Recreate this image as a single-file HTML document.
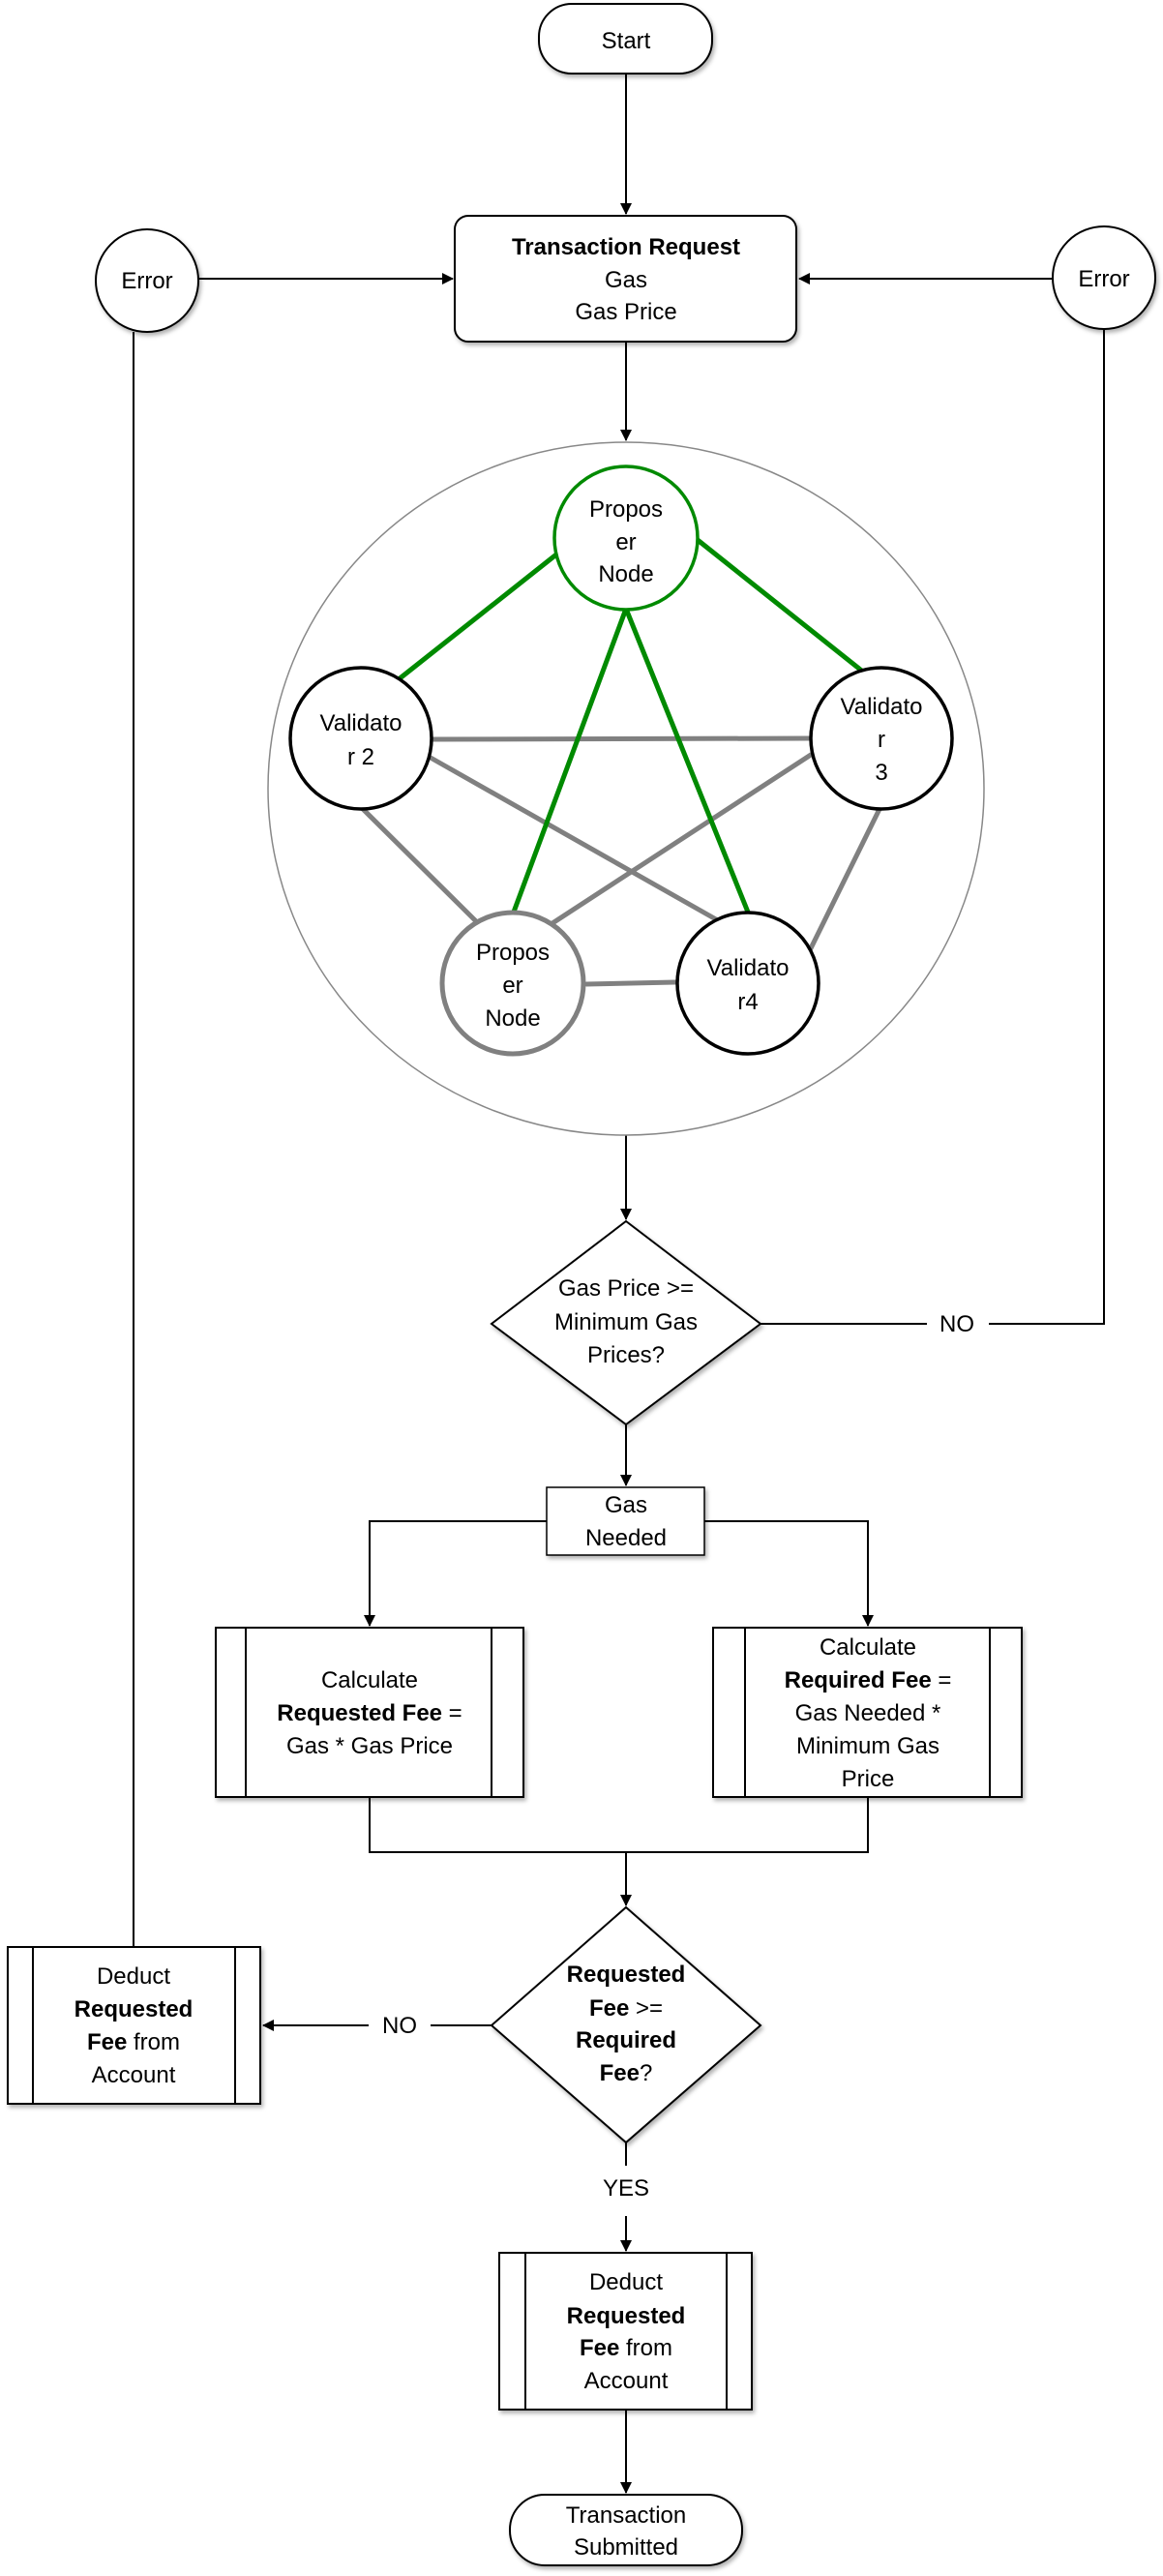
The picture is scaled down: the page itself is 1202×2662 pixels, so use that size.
<!DOCTYPE html>
<html><head><meta charset="utf-8"><style>
html,body{margin:0;padding:0;background:#fff;}
svg{display:block;}
text{font-family:"Liberation Sans",sans-serif;fill:#000;text-anchor:middle;}
</style></head><body>
<svg width="1202" height="2662" viewBox="0 0 1202 2662" xmlns="http://www.w3.org/2000/svg">
<defs>
<marker id="a" markerWidth="12" markerHeight="12" refX="11" refY="6" orient="auto" markerUnits="userSpaceOnUse"><path d="M0,0 L12,6 L0,12 z" fill="#000"/></marker>
<filter id="sh" x="-10%" y="-10%" width="130%" height="130%"><feDropShadow dx="2" dy="3" stdDeviation="2" flood-color="#000" flood-opacity="0.3"/></filter>
</defs>
<g stroke="#000" stroke-width="2" fill="none">
<line x1="647" y1="76" x2="647" y2="221" marker-end="url(#a)"/>
<line x1="205" y1="288" x2="468" y2="288" marker-end="url(#a)"/>
<line x1="1088" y1="288" x2="826" y2="288" marker-end="url(#a)"/>
<line x1="647" y1="353" x2="647" y2="455" marker-end="url(#a)"/>
<line x1="647" y1="1173" x2="647" y2="1260" marker-end="url(#a)"/>
<polyline points="786,1368 958,1368"/>
<polyline points="1022,1368 1141,1368 1141,341"/>
<line x1="138" y1="343" x2="138" y2="2012"/>
<line x1="647" y1="1472" x2="647" y2="1535" marker-end="url(#a)"/>
<polyline points="565,1572 382,1572 382,1680" marker-end="url(#a)"/>
<polyline points="728,1572 897,1572 897,1680" marker-end="url(#a)"/>
<polyline points="382,1857 382,1914 897,1914 897,1857"/>
<line x1="647" y1="1914" x2="647" y2="1969" marker-end="url(#a)"/>
<line x1="508" y1="2093" x2="445" y2="2093"/>
<line x1="381" y1="2093" x2="272" y2="2093" marker-end="url(#a)"/>
<line x1="647" y1="2214" x2="647" y2="2238"/>
<line x1="647" y1="2290" x2="647" y2="2326" marker-end="url(#a)"/>
<line x1="647" y1="2490" x2="647" y2="2576" marker-end="url(#a)"/>
</g>
<g stroke="#000" stroke-width="2" fill="#fff" filter="url(#sh)">
<rect x="557" y="4" width="179" height="72" rx="34"/>
<rect x="470" y="223" width="353" height="130" rx="14"/>
<circle cx="152" cy="290" r="53"/>
<circle cx="1141" cy="287" r="53"/>
<polygon points="647,1262 786,1368 647,1472 508,1368"/>
<rect x="565" y="1537" width="163" height="70" stroke-width="1.5"/>
<rect x="223" y="1682" width="318" height="175"/>
<rect x="737" y="1682" width="319" height="175"/>
<polygon points="647,1971 786,2093 647,2214 508,2093"/>
<rect x="8" y="2012" width="261" height="162"/>
<rect x="516" y="2328" width="261" height="162"/>
<rect x="527" y="2578" width="240" height="73" rx="36"/>
</g>
<g stroke="#000" stroke-width="2">
<line x1="254" y1="1682" x2="254" y2="1857"/><line x1="508" y1="1682" x2="508" y2="1857"/>
<line x1="770" y1="1682" x2="770" y2="1857"/><line x1="1023" y1="1682" x2="1023" y2="1857"/>
<line x1="34" y1="2012" x2="34" y2="2174"/><line x1="243" y1="2012" x2="243" y2="2174"/>
<line x1="543" y1="2328" x2="543" y2="2490"/><line x1="751" y1="2328" x2="751" y2="2490"/>
</g>
<ellipse cx="647" cy="815" rx="370" ry="358" fill="#fff" stroke="#888" stroke-width="1.5"/>
<g stroke="#808080" stroke-width="5" stroke-linecap="round">
<line x1="446" y1="764" x2="836" y2="763"/>
<line x1="445" y1="783" x2="747" y2="954"/>
<line x1="838" y1="780" x2="571" y2="954"/>
<line x1="373" y1="834" x2="493" y2="953"/>
<line x1="910" y1="834" x2="838" y2="980"/>
<line x1="606" y1="1017" x2="698" y2="1015"/>
</g>
<g stroke="#008a00" stroke-width="5" stroke-linecap="round">
<line x1="575" y1="573" x2="412" y2="702"/>
<line x1="721" y1="558" x2="893" y2="695"/>
<line x1="647" y1="629" x2="530" y2="945"/>
<line x1="647" y1="629" x2="774" y2="945"/>
</g>
<g fill="#fff" stroke-width="3.5">
<circle cx="647" cy="556" r="74" stroke="#008a00"/>
<circle cx="373" cy="763" r="73" stroke="#000"/>
<circle cx="911" cy="763" r="73" stroke="#000"/>
<circle cx="530" cy="1016" r="73" stroke="#808080" stroke-width="5"/>
<circle cx="773" cy="1016" r="73" stroke="#000"/>
</g>
<g font-size="24">
<text x="647" y="534">Propos</text><text x="647" y="568">er</text><text x="647" y="601">Node</text>
<text x="373" y="755">Validato</text><text x="373" y="790">r 2</text>
<text x="911" y="738">Validato</text><text x="911" y="772">r</text><text x="911" y="806">3</text>
<text x="530" y="992">Propos</text><text x="530" y="1026">er</text><text x="530" y="1060">Node</text>
<text x="773" y="1008">Validato</text><text x="773" y="1043">r4</text>
<text x="647" y="50">Start</text>
<text x="647" y="263" font-weight="bold">Transaction Request</text>
<text x="647" y="297">Gas</text>
<text x="647" y="330">Gas Price</text>
<text x="152" y="298">Error</text>
<text x="1141" y="296">Error</text>
<text x="647" y="1339">Gas Price &gt;=</text>
<text x="647" y="1374">Minimum Gas</text>
<text x="647" y="1408">Prices?</text>
<text x="989" y="1376">NO</text>
<text x="647" y="1563">Gas</text>
<text x="647" y="1597">Needed</text>
<text x="382" y="1744">Calculate</text>
<text x="382" y="1778"><tspan font-weight="bold">Requested Fee</tspan> =</text>
<text x="382" y="1812">Gas * Gas Price</text>
<text x="897" y="1710">Calculate</text>
<text x="897" y="1744"><tspan font-weight="bold">Required Fee</tspan> =</text>
<text x="897" y="1778">Gas Needed *</text>
<text x="897" y="1812">Minimum Gas</text>
<text x="897" y="1846">Price</text>
<text x="647" y="2048" font-weight="bold">Requested</text>
<text x="647" y="2083"><tspan font-weight="bold">Fee</tspan> &gt;=</text>
<text x="647" y="2116" font-weight="bold">Required</text>
<text x="647" y="2150"><tspan font-weight="bold">Fee</tspan>?</text>
<text x="413" y="2101">NO</text>
<text x="138" y="2050">Deduct</text>
<text x="138" y="2084" font-weight="bold">Requested</text>
<text x="138" y="2118"><tspan font-weight="bold">Fee</tspan> from</text>
<text x="138" y="2152">Account</text>
<text x="647" y="2269">YES</text>
<text x="647" y="2366">Deduct</text>
<text x="647" y="2401" font-weight="bold">Requested</text>
<text x="647" y="2434"><tspan font-weight="bold">Fee</tspan> from</text>
<text x="647" y="2468">Account</text>
<text x="647" y="2607">Transaction</text>
<text x="647" y="2640">Submitted</text>
</g>
</svg>
</body></html>
